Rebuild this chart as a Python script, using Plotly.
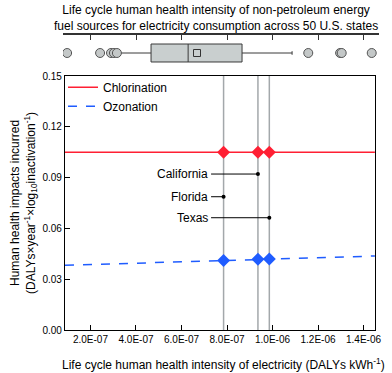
"""Health intensity of electricity vs. disinfection impacts, with a state box plot on top."""

import plotly.graph_objects as go

# Distribution of life cycle health intensity across 50 U.S. states (DALYs/kWh)
box_q1 = 4.66e-7
box_median = 6.29e-7
box_q3 = 8.66e-7
box_low = 3.18e-7
box_high = 1.086e-6
box_mean = 6.68e-7
box_points = [0.97e-7, 2.42e-7, 2.90e-7, 3.03e-7, 3.16e-7, 1.157e-6, 1.297e-6, 1.304e-6, 1.436e-6]

# Trend lines (DALYs year^-1 log10 inactivation^-1)
line_x = [0.88e-7, 1.45e-6]
chlorination_line = [0.105, 0.105]
ozonation_line = [0.0382, 0.0437]

# Selected states
states = ["Florida", "California", "Texas"]
state_x = [7.85e-7, 9.36e-7, 9.86e-7]
chlorination_pts = [0.105, 0.105, 0.105]
ozonation_pts = [0.0410, 0.0418, 0.0420]
label_y = [0.0787, 0.0921, 0.0663]
label_x_end = 7.3e-7

x_ticks = [2e-7, 4e-7, 6e-7, 8e-7, 1.0e-6, 1.2e-6, 1.4e-6]
x_tick_text = ["2.0E-07", "4.0E-07", "6.0E-07", "8.0E-07", "1.0E-06", "1.2E-06", "1.4E-06"]
y_ticks = [0.00, 0.03, 0.06, 0.09, 0.12, 0.15]

RED = "#ff1f33"
BLUE = "#1f5cff"
GRAY = "#a3a8ab"
FONT = "Liberation Sans, Arial, sans-serif"

fig = go.Figure()

# Vertical reference lines for the three states
for xv in state_x:
    fig.add_shape(
        type="line", xref="x", yref="y",
        x0=xv, x1=xv, y0=0, y1=0.15,
        line=dict(color=GRAY, width=1.5),
        layer="below",
    )

fig.add_trace(
    go.Scatter(
        x=line_x, y=chlorination_line, mode="lines", name="Chlorination",
        line=dict(color=RED, width=1.5),
    )
)
fig.add_trace(
    go.Scatter(
        x=line_x, y=ozonation_line, mode="lines", name="Ozonation",
        line=dict(color=BLUE, width=1.5, dash="dash"),
    )
)
fig.add_trace(
    go.Scatter(
        x=state_x, y=chlorination_pts, mode="markers", showlegend=False,
        marker=dict(symbol="diamond", size=10, color=RED),
    )
)
fig.add_trace(
    go.Scatter(
        x=state_x, y=ozonation_pts, mode="markers", showlegend=False,
        marker=dict(symbol="diamond", size=10, color=BLUE),
    )
)

# State labels with leader lines
for name, xv, yv in zip(states, state_x, label_y):
    fig.add_trace(
        go.Scatter(
            x=[label_x_end, xv], y=[yv, yv], mode="lines", showlegend=False,
            line=dict(color="black", width=1),
        )
    )
    fig.add_trace(
        go.Scatter(
            x=[xv], y=[yv], mode="markers", showlegend=False,
            marker=dict(color="black", size=4),
        )
    )
    fig.add_annotation(
        x=label_x_end, y=yv, xref="x", yref="y", text=name,
        showarrow=False, xanchor="right", xshift=-1,
        font=dict(size=12, color="black"),
    )

# Box plot on top
fig.add_trace(
    go.Box(
        x0=0, q1=[box_q1], median=[box_median], q3=[box_q3],
        lowerfence=[box_low], upperfence=[box_high],
        orientation="h", y=[0], width=0.5, whiskerwidth=0.2,
        fillcolor="#c9cfcf", line=dict(color="#3a3a3a", width=1),
        xaxis="x2", yaxis="y2", showlegend=False,
    )
)
fig.add_trace(
    go.Scatter(
        x=box_points, y=[0] * len(box_points), mode="markers",
        marker=dict(symbol="circle", size=9, color="#c4c8c8", line=dict(color="#555", width=1)),
        xaxis="x2", yaxis="y2", showlegend=False,
    )
)
fig.add_trace(
    go.Scatter(
        x=[box_mean], y=[0], mode="markers",
        marker=dict(symbol="square", size=7, color="#c9cfcf", line=dict(color="#333", width=1)),
        xaxis="x2", yaxis="y2", showlegend=False,
    )
)

fig.update_layout(
    width=392,
    height=373,
    margin=dict(l=63, r=13, t=35, b=43, autoexpand=False),
    plot_bgcolor="white",
    paper_bgcolor="white",
    font=dict(family=FONT, color="black", size=12),
    showlegend=True,
    legend=dict(
        x=0.0, y=0.872, xanchor="left", yanchor="top",
        font=dict(size=12), itemwidth=30, bgcolor="rgba(0,0,0,0)",
        tracegroupgap=0,
    ),
    xaxis=dict(
        domain=[2 / 316, 312 / 316],
        range=[0.88e-7, 1.4505e-6],
        tickvals=x_ticks, ticktext=x_tick_text,
        ticks="inside", ticklen=5, tickcolor="black",
        showline=True, linecolor="black", linewidth=1.2, mirror=True,
        showgrid=False, zeroline=False, automargin=False,
        tickfont=dict(size=10),
    ),
    yaxis=dict(
        domain=[0, 254 / 295],
        range=[0, 0.15],
        tickvals=y_ticks, tickformat=".2f",
        ticks="inside", ticklen=5, tickcolor="black",
        showline=True, linecolor="black", linewidth=1.2, mirror=True,
        showgrid=False, zeroline=False, automargin=False,
        tickfont=dict(size=10),
    ),
    xaxis2=dict(
        domain=[0, 1],
        anchor="y2",
        side="top",
        range=[0.79e-7, 1.468e-6],
        tickvals=x_ticks, showticklabels=False,
        ticks="inside", ticklen=5, tickcolor="#333",
        showline=True, linecolor="#333", linewidth=1.5,
        showgrid=False, zeroline=False, automargin=False,
    ),
    yaxis2=dict(
        domain=[0.878, 1],
        anchor="x2",
        range=[-0.5, 0.5],
        showline=False, showticklabels=False, ticks="",
        showgrid=False, zeroline=False,
        automargin=False,
    ),
)

# Box plot title (positions given in pixels, converted to paper coords)
fig.add_annotation(
    x=(216 - 63) / 316, y=(373 - 43 - 1) / 295, xref="paper", yref="paper",
    text="Life cycle human health intensity of non-petroleum energy<br>fuel sources for electricity consumption across 50 U.S. states",
    showarrow=False, xanchor="center", yanchor="top",
    font=dict(size=12),
)

# X axis title
fig.add_annotation(
    x=(223 - 63) / 316, y=-(364 - 330) / 295, xref="paper", yref="paper",
    text="Life cycle human health intensity of electricity (DALYs kWh<sup>-1</sup>)",
    showarrow=False, xanchor="center", yanchor="middle",
    font=dict(size=12),
)

# Y axis title (two lines)
fig.add_annotation(
    x=(23 - 63) / 316, y=127 / 295, xref="paper", yref="paper",
    text="Human health impacts incurred<br>(DALYs×year<sup>-1</sup>×log<sub>10</sub>inactivation<sup>-1</sup>)",
    showarrow=False, textangle=-90, xanchor="center", yanchor="middle",
    font=dict(size=12),
)

# drop the page's default body margin so the figure sits at the window corner
fig.write_html(
    "out.html",
    config={"displayModeBar": False},
    post_script="document.body.style.margin='0';",
)
